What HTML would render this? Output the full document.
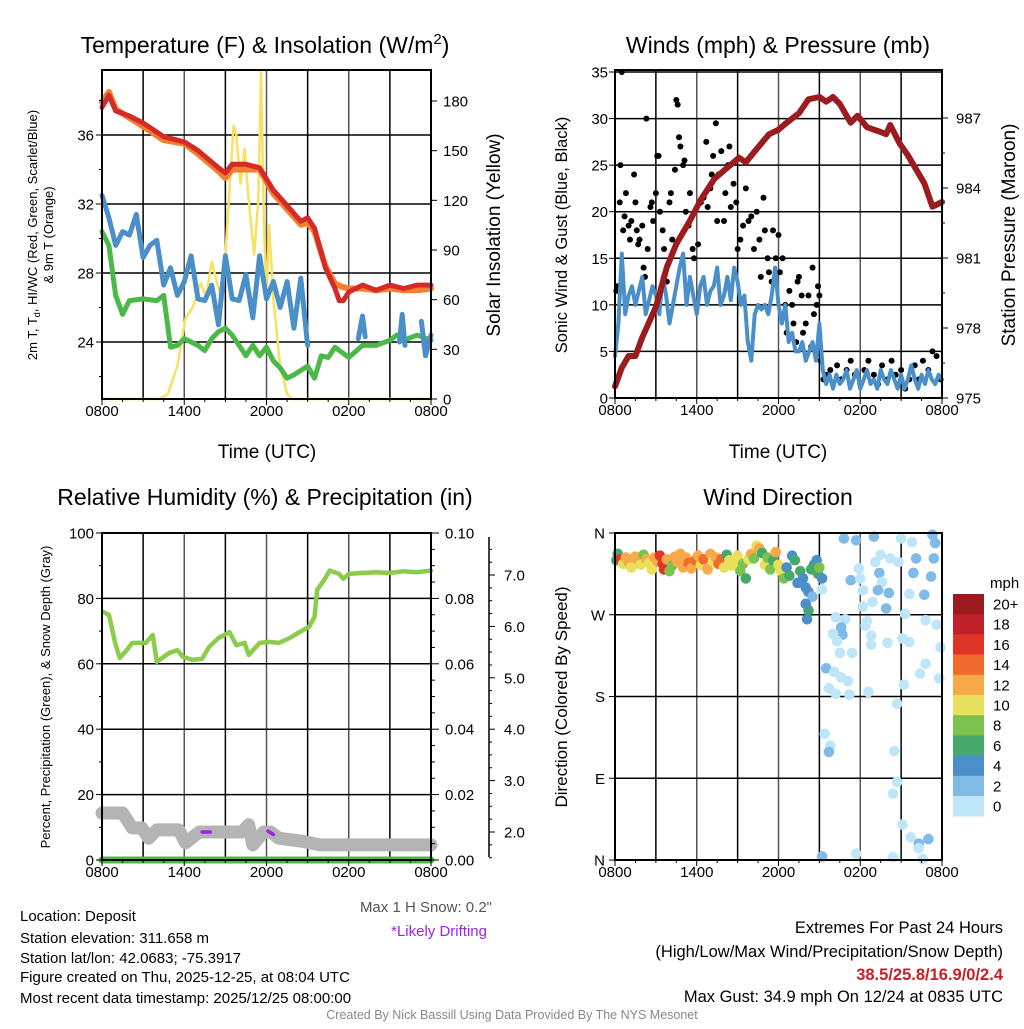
<!DOCTYPE html>
<html><head><meta charset="utf-8"><style>
body{margin:0;background:#fff}
svg{font-family:"Liberation Sans",sans-serif}
</style></head><body>
<svg id="s" xmlns="http://www.w3.org/2000/svg" width="1024" height="1024" viewBox="0 0 1024 1024">
<rect width="1024" height="1024" fill="#fff"/>
<g id="p1"></g>
<g id="p2"></g>
<g id="p3"></g>
<g id="p4"></g>
<g id="txt">
<text x="265" y="53" font-size="23" text-anchor="middle">Temperature (F) &amp; Insolation (W/m<tspan dy="-9" font-size="15">2</tspan><tspan dy="9">)</tspan></text>
<text x="778" y="53" font-size="23" text-anchor="middle">Winds (mph) &amp; Pressure (mb)</text>
<text x="265" y="505" font-size="23" text-anchor="middle">Relative Humidity (%) &amp; Precipitation (in)</text>
<text x="778" y="505" font-size="23" text-anchor="middle">Wind Direction</text>
<text x="267" y="458" font-size="19" text-anchor="middle">Time (UTC)</text>
<text x="778" y="458" font-size="19" text-anchor="middle">Time (UTC)</text>
<text transform="translate(37,235) rotate(-90)" font-size="13" text-anchor="middle">2m T, T<tspan font-size="9" dy="3">d</tspan><tspan dy="-3">, HI/WC (Red, Green, Scarlet/Blue)</tspan></text>
<text transform="translate(53,235) rotate(-90)" font-size="13" text-anchor="middle">&amp; 9m T (Orange)</text>
<text transform="translate(500,235) rotate(-90)" font-size="19" text-anchor="middle">Solar Insolation (Yellow)</text>
<text transform="translate(567,235) rotate(-90)" font-size="16.5" text-anchor="middle">Sonic Wind &amp; Gust (Blue, Black)</text>
<text transform="translate(1015,235) rotate(-90)" font-size="19" text-anchor="middle">Station Pressure (Maroon)</text>
<text transform="translate(50,697) rotate(-90)" font-size="13" text-anchor="middle">Percent, Precipitation (Green), &amp; Snow Depth (Gray)</text>
<text transform="translate(567,697) rotate(-90)" font-size="17" text-anchor="middle">Direction (Colored By Speed)</text>
<g font-size="15">
<text x="20" y="921">Location: Deposit</text>
<text x="20" y="943">Station elevation: 311.658 m</text>
<text x="20" y="963">Station lat/lon: 42.0683; -75.3917</text>
<text x="20" y="982">Figure created on Thu, 2025-12-25, at 08:04 UTC</text>
<text x="20" y="1003">Most recent data timestamp: 2025/12/25 08:00:00</text>
</g>
<text x="492" y="912" font-size="15" fill="#555" text-anchor="end">Max 1 H Snow: 0.2"</text>
<text x="487" y="936" font-size="15" fill="#a020f0" text-anchor="end">*Likely Drifting</text>
<g font-size="16.5" text-anchor="end">
<text x="1003" y="933">Extremes For Past 24 Hours</text>
<text x="1003" y="957">(High/Low/Max Wind/Precipitation/Snow Depth)</text>
<text x="1003" y="980" fill="#c8202a" font-weight="bold">38.5/25.8/16.9/0/2.4</text>
<text x="1003" y="1002">Max Gust: 34.9 mph On 12/24 at 0835 UTC</text>
</g>
<text x="512" y="1019" font-size="12.5" fill="#888" text-anchor="middle">Created By Nick Bassill Using Data Provided By The NYS Mesonet</text>
</g>
</svg>
<script>
// ---- data (hours since 0800 UTC) ----
const xTickLabels=["0800","1400","2000","0200","0800"];
const tempTicks=[24,28,32,36];
const solarTicks=[0,30,60,90,120,150,180];
const windTicks=[0,5,10,15,20,25,30,35];
const presTicks=[975,978,981,984,987];
const rhTicks=[0,20,40,60,80,100];
const precipTicks=["0.00","0.02","0.04","0.06","0.08","0.10"];
const snowTicks=[2,3,4,5,6,7];
const dirTicks=["N","W","S","E","N"];
const temp2m=[[0,37.6],[0.5,38.3],[1,37.4],[2,37.1],[3,36.7],[4.5,35.9],[6,35.6],[7,35.1],[8.5,34.1],[9,33.8],[9.5,34.3],[10.5,34.3],[11.5,34.1],[12.5,32.8],[13.5,31.9],[14.5,31.0],[15,31.2],[15.5,30.6],[16.3,28.3],[17,27.1],[17.3,26.4],[17.6,26.4],[18,26.9],[19,27.3],[20,27.0],[21,27.3],[22,27.1],[23,27.3],[24,27.3]];
const temp9m=[[0,37.9],[0.5,38.5],[1,37.5],[2,37.0],[3,36.5],[4.5,35.7],[6,35.5],[7,34.9],[8.5,33.9],[9,33.5],[9.5,34.0],[10.5,34.0],[11.5,34.0],[12.5,32.6],[13.5,31.7],[14.5,30.8],[15,30.9],[15.5,30.4],[16.3,28.4],[17,27.4],[17.5,27.2],[18,27.1],[19,27.1],[20,27.0],[21,27.1],[22,27.0],[23,27.0],[24,27.1]];
const windChill=[[0,32.5],[0.5,31.2],[1,29.6],[1.5,30.4],[2,30.2],[2.5,31.4],[3,28.9],[3.5,29.6],[4,29.9],[4.5,27.3],[5,28.3],[5.5,26.7],[6,27.5],[6.5,29.0],[7,26.5],[7.5,26.4],[8,27.3],[8.5,25.0],[9,29.0],[9.5,26.5],[10,26.4],[10.5,27.9],[11,25.4],[11.5,29.0],[12,26.5],[12.5,27.5],[13,26.0],[13.5,27.5],[14,24.8],[14.5,27.7],[15,23.8]];
const windChill2=[[18.7,24.2],[19,25.5],[19.2,24.3]];
const windChill3=[[21.7,24.0],[21.9,25.6],[22.1,23.8]];
const windChill4=[[23.3,25.2],[23.6,23.2],[24,24.4]];
const dewpoint=[[0,30.4],[0.5,29.6],[1,26.7],[1.5,25.6],[2,26.4],[3,26.5],[4,26.4],[4.5,26.7],[5,23.7],[5.5,23.8],[6,24.2],[7,23.8],[7.5,23.5],[8,24.2],[8.5,24.6],[9,24.8],[9.5,24.4],[10,23.8],[10.5,23.2],[11,23.8],[11.5,23.2],[12,23.7],[12.5,22.9],[13,22.5],[13.5,21.9],[14,22.1],[15,22.6],[15.5,21.9],[16,23.2],[16.5,23.1],[17,23.7],[18,23.1],[19,23.8],[20,23.8],[21,24.1],[21.5,24.4],[22,24.1],[23,24.4],[24,24.1]];
const solar=[[0,0],[4.2,0],[4.8,3],[5.5,20],[6.1,49],[6.6,55],[7.2,70],[7.6,62],[8.0,83],[8.4,70],[8.8,59],[9.1,100],[9.4,140],[9.6,165],[9.8,160],[10.1,130],[10.4,151],[10.7,120],[11.1,87],[11.4,120],[11.6,198],[11.8,110],[12.0,60],[12.2,105],[12.5,60],[13,20],[13.5,3],[13.9,0],[24,0]];
const windSpd=[4.5,8,15.5,9,11,12,10,11.5,13,9,10.5,12,11,9,13,11,8,10,12,14,15.5,10,13,11,9,12,13,10,11.5,12,14,10,11,13,10.5,14,12.5,10,11,6,4,9,10,9.5,10,9,11,14,10,8,10,6,7,5,5,6,4,5,6,4,8,3,1.5,2.5,1,2.5,1.5,2,3,1,2,3,1,2,3,1.5,2,1,3,2,1.5,3,2,1,2.5,1,2,3.5,2,1,2.5,1.5,3,2,1.5,2.5,2];
const gusts=[[0.1,11.5],[0.2,12],[0.35,21],[0.4,25],[0.5,35],[0.6,18],[0.7,19.5],[0.8,22],[1.0,18.5],[1.1,17],[1.2,19],[1.4,24],[1.5,21],[1.6,18],[1.7,16.5],[1.8,17],[2.0,18.5],[2.1,14],[2.2,13],[2.3,30],[2.4,16],[2.6,20.5],[2.7,21],[2.8,19],[3.0,22],[3.1,26],[3.2,26],[3.3,20],[3.5,18],[3.6,16],[3.8,12.5],[4.0,21],[4.1,22],[4.2,17],[4.4,24.5],[4.5,32],[4.6,31.5],[4.7,28],[4.8,27],[5.0,25],[5.1,25.5],[5.2,20],[5.4,18.5],[5.5,22],[5.7,16],[5.8,15],[6.0,10],[6.1,16.5],[6.3,21],[6.5,21.5],[6.7,27.5],[6.8,20.5],[7.0,22.5],[7.1,24],[7.2,26],[7.4,29.5],[7.5,19],[7.6,24],[7.8,26.5],[8.0,19],[8.1,22],[8.3,25],[8.4,27],[8.5,20.5],[8.7,23],[8.9,21],[9.0,16],[9.2,17],[9.4,18.5],[9.6,22.5],[9.8,19],[10.0,19.5],[10.2,16],[10.4,20],[10.6,17],[10.7,13],[10.9,21.5],[11.0,18],[11.2,15],[11.3,13.5],[11.5,12.5],[11.6,18],[11.8,15],[12.0,17.5],[12.1,13.5],[12.3,15],[12.5,10],[12.6,7],[12.8,11.5],[13.0,10],[13.1,8],[13.3,6],[13.4,12.5],[13.5,13],[13.7,11],[13.8,7],[14.0,8],[14.2,11],[14.4,5.5],[14.5,14],[14.6,9],[14.8,10],[14.9,12],[15.0,11],[15.1,4],[15.3,2],[15.5,2.5],[15.8,3],[16.0,1.5],[16.3,3.5],[16.6,2],[17.0,3],[17.3,4],[17.6,2.5],[18.0,1.5],[18.3,3],[18.6,4],[19.0,2.5],[19.3,1.5],[19.6,3.5],[20.0,2],[20.3,4],[20.6,2.5],[21.0,3],[21.3,1],[21.6,2],[22.0,3.5],[22.3,2],[22.6,4],[23.0,3],[23.3,5],[23.6,4.5],[23.9,2]];
const pressure=[[0,975.5],[0.5,976.3],[1,976.8],[1.5,976.8],[2,977.6],[3,978.9],[3.8,980.6],[4.5,981.6],[5.5,982.6],[6.3,983.5],[7.3,984.4],[8.3,984.9],[9.1,985.3],[9.6,985.1],[10.3,985.6],[11.3,986.3],[12,986.5],[12.6,986.8],[13.5,987.2],[14.2,987.8],[15,987.9],[15.5,987.7],[16,987.9],[16.5,987.6],[17.3,986.8],[17.8,987.1],[18.5,986.6],[19.5,986.4],[19.9,986.3],[20.2,986.7],[20.9,985.9],[21.5,985.4],[22.1,984.8],[22.7,984.2],[23.3,983.2],[24,983.4]];
const rh=[[0.1,75.8],[0.5,75],[1.0,65.7],[1.3,61.8],[1.8,64.2],[2.2,66.4],[3.2,66.4],[3.7,68.8],[4.0,60.6],[4.9,63.3],[5.5,64.2],[5.9,62.1],[6.6,61.2],[7.3,61.5],[7.8,65.1],[8.5,67.9],[9.3,69.7],[9.8,65.7],[10.4,66.4],[10.7,62.7],[11.5,66.4],[12.2,66.7],[12.9,66.4],[13.7,67.9],[14.4,69.7],[15.1,71.3],[15.5,74.3],[15.7,82.6],[16.2,85.6],[16.6,88.5],[17.3,87.5],[17.6,86],[18,87.5],[19,87.8],[20,88],[21,87.8],[22,88.3],[23,88],[24,88.5]];
const precip=[[0,0],[24,0]];
const snowDepth=[[0,2.37],[1.5,2.37],[2.2,2.08],[2.9,2.08],[3.4,1.88],[4.0,2.04],[5.6,2.04],[6.1,1.79],[7.1,2.0],[10.2,2.0],[10.7,2.14],[11.0,1.75],[11.8,2.0],[12.3,2.0],[12.9,1.88],[14.6,1.82],[15.9,1.75],[24,1.75]];
const drift1=[[7.3,2.0],[7.9,2.0]];
const drift2=[[12.1,2.02],[12.5,1.95]];
const windDir=[[0.1,330,6],[0.2,337,7],[0.4,331,16],[0.6,326,10],[0.8,333,13],[1.0,328,12],[1.2,322,11],[1.5,334,12],[1.7,330,13],[1.9,325,10],[2.1,336,8],[2.3,331,12],[2.5,327,11],[2.7,320,10],[2.9,333,12],[3.1,329,13],[3.3,335,17],[3.5,326,17],[3.6,320,16],[3.8,331,13],[4.0,318,9],[4.2,324,8],[4.4,334,12],[4.6,328,13],[4.8,337,12],[5.0,322,12],[5.2,333,13],[5.4,327,15],[5.6,321,12],[5.9,330,15],[6.1,335,12],[6.3,325,11],[6.5,331,14],[6.8,320,12],[7.0,337,12],[7.2,329,10],[7.4,333,13],[7.6,326,15],[7.8,331,14],[8.0,322,10],[8.2,336,7],[8.4,330,10],[8.6,324,10],[8.8,328,11],[9.0,335,10],[9.2,318,9],[9.4,326,8],[9.6,310,7],[9.8,331,10],[10.0,337,12],[10.2,332,9],[10.4,346,11],[10.6,343,12],[10.8,338,7],[11.0,325,10],[11.2,333,9],[11.4,320,8],[11.6,330,6],[11.8,339,12],[12.0,325,10],[12.2,318,11],[12.4,310,9],[12.6,322,5],[12.8,313,6],[13.0,335,4],[13.2,330,6],[13.4,305,5],[13.6,318,6],[13.8,310,4],[14.0,300,5],[14.2,295,4],[14.4,320,6],[14.5,290,3],[14.6,325,7],[14.8,330,4],[14.9,315,6],[14.2,275,6],[14.1,265,4],[14.0,282,4],[15.0,322,8],[15.2,310,4],
[16.8,354,3],[17.7,352,3],[19.0,356,3],[21.0,354,1],[21.8,350,1],[23.3,358,3],[23.5,349,3],[19.5,336,1],[20.2,332,1],[19.1,328,1],[20.8,328,1],[22.1,332,3],[23.4,332,3],[17.9,321,1],[19.4,316,3],[17.3,308,3],[18.0,310,1],[19.6,306,1],[21.9,316,3],[23.2,312,3],[15.2,298,1],[18.2,297,1],[19.3,297,3],[20.1,294,3],[21.6,293,1],[22.7,292,3],[18.9,284,1],[18.2,279,1],[19.9,277,3],[16.2,267,1],[16.9,265,1],[18.5,263,1],[21.3,271,1],[22.8,264,1],[23.6,259,1],[16.6,256,3],[18.4,258,1],[16.7,248,3],[16.0,249,1],[18.8,247,1],[16.3,241,1],[21.1,244,1],[21.6,240,1],[20.0,239,1],[18.8,237,1],[17.4,228,1],[16.5,228,1],[23.9,234,1],[22.8,216,1],[15.5,211,3],[16.1,207,1],[16.6,201,1],[17.1,197,1],[22.4,205,1],[21.2,193,1],[15.7,189,1],[16.2,183,1],[17.2,182,1],[18.6,185,1],[23.8,200,1],[20.7,172,1],[15.4,139,1],[15.8,126,1],[15.7,119,3],[20.5,120,1],[20.7,86,1],[20.4,73,1],[21.1,39,1],[21.7,25,1],[22.3,18,3],[23.0,23,3],[22.3,13,1],[15.2,4,3],[17.7,7,1],[20.4,3,1],[22.6,1,1]];
const speedLabels=["20+","18","16","14","12","10","8","6","4","2","0"];
const speedColors=["#9b1b1e","#c0202a","#e03428","#f26a2e","#f8a94a","#e8e05a","#7cc24e","#46a86a","#4a8fc8","#80bbe8","#bfe6f8"];

// ---- helpers ----
const NS="http://www.w3.org/2000/svg";
function mk(parent,tag,attrs,text){const e=document.createElementNS(NS,tag);for(const k in attrs)e.setAttribute(k,attrs[k]);if(text!==undefined)e.textContent=text;parent.appendChild(e);return e;}
function lin(d0,d1,r0,r1){return v=>r0+(v-d0)*(r1-r0)/(d1-d0);}
function pathOf(pts,fx,fy){return pts.map((p,i)=>(i?'L':'M')+fx(p[0]).toFixed(1)+' '+fy(p[1]).toFixed(1)).join('');}
function frame(g,L,R,T,B,xs,hLines){
  for(let h=3;h<24;h+=3){const l=mk(g,'line',{x1:xs(h),x2:xs(h),y1:T,y2:B,stroke:(h%6==0)?'#555':'#000','stroke-width':1.5});
    }
  hLines.forEach(y=>{const l=mk(g,'line',{x1:L,x2:R,y1:y,y2:y,stroke:'#000','stroke-width':1.5});
    });
}
function border(g,L,R,T,B){const r=mk(g,'rect',{x:L,y:T,width:R-L,height:B-T,fill:'none',stroke:'#000','stroke-width':2});
  }
function xAxis(g,xs,B){
  for(let h=0;h<=24;h+=1.5){mk(g,'line',{x1:xs(h),x2:xs(h),y1:B,y2:B+(h%6==0?6:3),stroke:'#000','stroke-width':1});}
  xTickLabels.forEach((t,i)=>{const e=mk(g,'text',{x:xs(i*6),y:B+17,'font-size':15,'text-anchor':'middle'},t);
    });
}
function yLabels(g,vals,fy,x,anchor,fmt){vals.forEach(v=>{const e=mk(g,'text',{x:x,y:fy(v)+5.5,'font-size':15,'text-anchor':anchor},fmt?fmt(v):v);
  });}
function line(g,pts,fx,fy,color,w,name){const p=mk(g,'path',{d:pathOf(pts,fx,fy),fill:'none',stroke:color,'stroke-width':w,'stroke-linejoin':'round','stroke-linecap':'round'});
  return p;}

// ---- panel 1 ----
(function(){
 const g=document.getElementById('p1');const L=102,R=431,T=70,B=399;
 const xs=lin(0,24,L,R),yt=lin(24,36,342,135),ys=lin(0,180,399,101);
 frame(g,L,R,T,B,xs,tempTicks.map(yt));
 line(g,solar,xs,ys,'#f8e060',2.5,'solar-insolation-line');
 line(g,dewpoint,xs,yt,'#4cb848',5,'dewpoint-line');
 [windChill,windChill2,windChill3,windChill4].forEach(s=>line(g,s,xs,yt,'#4a8fc8',5,'wind-chill-line'));
 line(g,temp9m,xs,yt,'#f47f30',6,'temp-9m-line');
 line(g,temp2m,xs,yt,'#d42a28',5,'temp-2m-line');
 border(g,L,R,T,B);xAxis(g,xs,B);
 for(let v=22;v<=38;v+=2)mk(g,'line',{x1:L-(v%4==0?6:3),x2:L,y1:yt(v),y2:yt(v),stroke:'#000'});
 yLabels(g,tempTicks,yt,L-8,'end');
 solarTicks.forEach(v=>mk(g,'line',{x1:R,x2:R+6,y1:ys(v),y2:ys(v),stroke:'#000'}));
 yLabels(g,solarTicks,ys,R+12,'start');
})();
// ---- panel 2 ----
(function(){
 const g=document.getElementById('p2');const L=615,R=942,T=70,B=398;
 const xs=lin(0,24,L,R),yw=lin(0,35,398,72),yp=lin(975,987,398,118);
 frame(g,L,R,T,B,xs,windTicks.slice(1).map(yw));
 gusts.forEach(p=>{const c=mk(g,'circle',{cx:xs(p[0]),cy:yw(p[1]),r:3,fill:'#000'});
   });
 line(g,windSpd.map((v,i)=>[i*0.25,v]),xs,yw,'#4a8fc8',4,'sonic-wind-line');
 line(g,pressure,xs,yp,'#9b1b1e',6,'pressure-line');
 border(g,L,R,T,B);xAxis(g,xs,B);
 windTicks.forEach(v=>mk(g,'line',{x1:L-6,x2:L,y1:yw(v),y2:yw(v),stroke:'#000'}));
 yLabels(g,windTicks,yw,L-7,'end');
 for(let v=975;v<=988;v+=1.5)mk(g,'line',{x1:R,x2:R+(((v-975)%3)==0?6:3),y1:yp(v),y2:yp(v),stroke:'#000'});
 yLabels(g,presTicks,yp,R+14,'start');
})();
// ---- panel 3 ----
(function(){
 const g=document.getElementById('p3');const L=102,R=431,T=533,B=860;
 const xs=lin(0,24,L,R),yr=lin(0,100,860,533),yn=lin(2,7,832,575);
 frame(g,L,R,T,B,xs,[20,40,60,80].map(yr));
 line(g,snowDepth,xs,yn,'#b4b4b4',13,'snow-depth-line');
 line(g,drift1,xs,yn,'#a020f0',3.5,'drifting-mark');
 line(g,drift2,xs,yn,'#a020f0',3.5,'drifting-mark');
 line(g,precip,xs,yr,'#4cb848',7,'precipitation-line');
 line(g,rh,xs,yr,'#8ccc4c',4.5,'relative-humidity-line');
 border(g,L,R,T,B);xAxis(g,xs,B);
 for(let v=0;v<=100;v+=10)mk(g,'line',{x1:L-(v%20==0?6:3),x2:L,y1:yr(v),y2:yr(v),stroke:'#000'});
 yLabels(g,rhTicks,yr,L-8,'end');
 for(let v=0;v<=100;v+=5)mk(g,'line',{x1:R,x2:R+(v%20==0?8:4),y1:yr(v),y2:yr(v),stroke:'#000'});
 precipTicks.forEach((t,i)=>{const e=mk(g,'text',{x:R+14,y:yr(i*20)+5.5,'font-size':15},t);
   });
 const ax=mk(g,'line',{x1:489,x2:489,y1:537,y2:857,stroke:'#000','stroke-width':1.5});
 
 for(let v=1.5;v<=7.7;v+=0.25)mk(g,'line',{x1:489,x2:489+((v*4)%4==0?6:3),y1:yn(v),y2:yn(v),stroke:'#000'});
 snowTicks.forEach(v=>{const e=mk(g,'text',{x:504,y:yn(v)+5.5,'font-size':15},v.toFixed(1));
   });
})();
// ---- panel 4 ----
(function(){
 const g=document.getElementById('p4');const L=615,R=942,T=533,B=860;
 const xs=lin(0,24,L,R),yd=lin(0,360,860,533);
 frame(g,L,R,T,B,xs,[90,180,270].map(yd));
 windDir.forEach(p=>{const bin=Math.min(10,Math.floor(p[2]/2));const col=speedColors[10-bin];
   const c=mk(g,'circle',{cx:xs(p[0]),cy:yd(p[1]),r:5.3,fill:col});
   });
 border(g,L,R,T,B);xAxis(g,xs,B);
 dirTicks.forEach((t,i)=>{mk(g,'line',{x1:L-6,x2:L,y1:yd(360-i*90),y2:yd(360-i*90),stroke:'#000'});
   const e=mk(g,'text',{x:L-10,y:yd(360-i*90)+5.5,'font-size':15,'text-anchor':'end'},t);
   });
 const lg=mk(g,'g',{});
 mk(lg,'text',{x:990,y:588,'font-size':15},'mph');
 speedLabels.forEach((t,i)=>{const r=mk(lg,'rect',{x:953,y:594+i*20.2,width:31,height:20.5,fill:speedColors[i]});
   
   const e=mk(lg,'text',{x:993,y:594+i*20.2+15.5,'font-size':15},t);
   });
})();
</script>
</body></html>
